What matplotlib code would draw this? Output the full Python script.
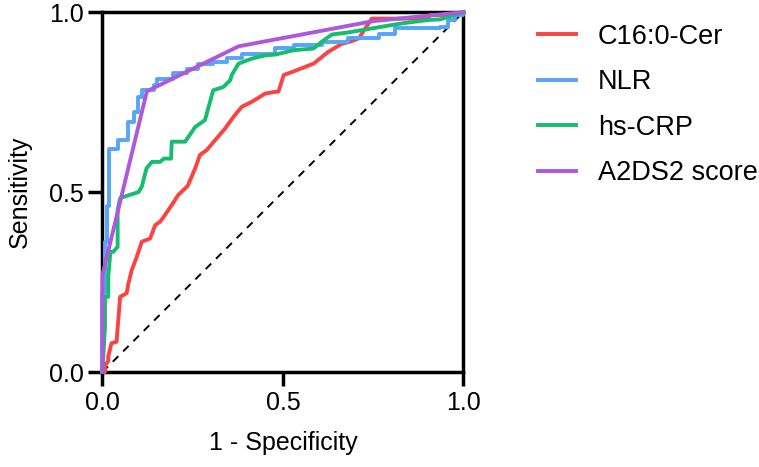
import numpy as np
import matplotlib
matplotlib.use("Agg")
import matplotlib.pyplot as plt

plt.rcParams['font.family'] = ['Liberation Sans', 'DejaVu Sans']

# ROC curves: (1 - specificity, sensitivity)
cer_x = [0, 0.007, 0.007, 0.016, 0.016, 0.025, 0.039, 0.049, 0.067, 0.072, 0.081, 0.095, 0.109,
         0.132, 0.146, 0.16, 0.173, 0.19, 0.21, 0.236, 0.257, 0.27, 0.289, 0.312, 0.34, 0.363,
         0.386, 0.414, 0.437, 0.451, 0.488, 0.502, 0.539, 0.585, 0.626, 0.663, 0.687, 0.71,
         0.746, 0.9, 0.908, 0.97, 1.0]
cer_y = [0, 0.0, 0.019, 0.03, 0.043, 0.08, 0.084, 0.209, 0.219, 0.246, 0.283, 0.32, 0.362,
         0.371, 0.408, 0.418, 0.436, 0.461, 0.492, 0.517, 0.566, 0.603, 0.617, 0.644, 0.677, 0.709,
         0.737, 0.751, 0.765, 0.774, 0.78, 0.825, 0.839, 0.857, 0.89, 0.912, 0.918, 0.927,
         0.982, 0.982, 0.992, 0.992, 1.0]

nlr_x = [0, 0, 0.007, 0.007, 0.012, 0.012, 0.018, 0.018, 0.044, 0.044, 0.07, 0.07, 0.088, 0.088,
         0.098, 0.098, 0.109, 0.109, 0.144, 0.144, 0.15, 0.15, 0.196, 0.196, 0.233, 0.233,
         0.266, 0.266, 0.307, 0.307, 0.344, 0.344, 0.386, 0.386, 0.478, 0.478, 0.53, 0.53,
         0.608, 0.608, 0.681, 0.681, 0.765, 0.765, 0.811, 0.811, 0.936, 0.936, 0.958, 0.958,
         0.978, 0.978, 1.0, 1.0]
nlr_y = [0, 0.22, 0.22, 0.36, 0.36, 0.46, 0.46, 0.62, 0.62, 0.644, 0.644, 0.695, 0.695, 0.723,
         0.723, 0.765, 0.765, 0.783, 0.783, 0.797, 0.797, 0.814, 0.814, 0.83, 0.83, 0.843,
         0.843, 0.855, 0.855, 0.862, 0.862, 0.873, 0.873, 0.885, 0.885, 0.899, 0.899, 0.908,
         0.908, 0.918, 0.918, 0.927, 0.927, 0.938, 0.938, 0.956, 0.956, 0.959, 0.959, 0.978,
         0.978, 0.992, 0.992, 1.0]

crp_x = [0, 0.007, 0.007, 0.016, 0.016, 0.022, 0.03, 0.042, 0.042, 0.049, 0.075, 0.1, 0.109,
         0.122, 0.137, 0.16, 0.17, 0.19, 0.192, 0.229, 0.257, 0.284, 0.298, 0.307, 0.335, 0.354,
         0.358, 0.377, 0.414, 0.451, 0.478, 0.529, 0.585, 0.608, 0.636, 0.677, 0.742, 0.825,
         0.9, 0.936, 1.0]
crp_y = [0, 0.126, 0.209, 0.209, 0.265, 0.334, 0.334, 0.348, 0.45, 0.483, 0.492, 0.50, 0.515,
         0.566, 0.584, 0.584, 0.593, 0.593, 0.64, 0.64, 0.681, 0.70, 0.751, 0.783, 0.792, 0.811,
         0.825, 0.857, 0.871, 0.88, 0.882, 0.894, 0.899, 0.918, 0.938, 0.943, 0.954, 0.968,
         0.978, 0.98, 1.0]

a2ds2_x = [0, 0, 0.123, 0.377, 0.75, 1.0]
a2ds2_y = [0, 0.27, 0.78, 0.905, 0.975, 1.0]

labels = ['C16:0-Cer', 'NLR', 'hs-CRP', 'A2DS2 score']
colors = ['#FA4343', '#55A5F8', '#16BD6E', '#AE58DB']

fig = plt.figure(figsize=(7.59, 4.67), dpi=100)
ax = fig.add_axes([0.135, 0.2034, 0.4755, 0.7706])

ax.plot([0, 1], [0, 1], color='black', lw=1.4, ls=(0, (4, 3.5)), zorder=2)

curves = [(cer_x, cer_y), (nlr_x, nlr_y), (crp_x, crp_y), (a2ds2_x, a2ds2_y)]
for (xs, ys), lab, col in zip(curves, labels, colors):
    ax.plot(xs, ys, color=col, lw=2.8, label=lab, clip_on=False, zorder=3)

ax.set_xlim(0, 1)
ax.set_ylim(0, 1)
ax.set_xticks([0, 0.5, 1.0])
ax.set_yticks([0, 0.5, 1.0])
ax.set_xticklabels(['0.0', '0.5', '1.0'])
ax.set_yticklabels(['0.0', '0.5', '1.0'])
for sp in ax.spines.values():
    sp.set_linewidth(2.5)
ax.tick_params(length=10, width=2.5, labelsize=18, pad=3.5)

ax.set_xlabel('1 - Specificity', fontsize=18, labelpad=12)
ax.set_ylabel('Sensitivity', fontsize=18, labelpad=12)

ax.legend(loc='upper left', bbox_to_anchor=(0.695, 0.972), bbox_transform=fig.transFigure,
          frameon=False, fontsize=19.5, handlelength=1.4, handletextpad=0.8,
          labelspacing=0.72, borderaxespad=0)

fig.savefig('out.png', dpi=100)
